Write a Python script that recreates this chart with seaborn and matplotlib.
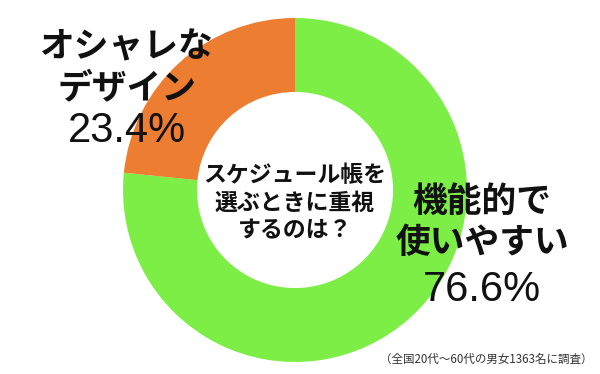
import matplotlib
matplotlib.use('Agg')
import matplotlib.pyplot as plt
import seaborn as sns

sns.set_theme(style='white')
plt.rcParams['font.family'] = ['Noto Sans CJK JP', 'DejaVu Sans']

# data
labels = ['機能的で\n使いやすい', 'オシャレな\nデザイン']
values = [76.6, 23.4]
slice_colors = ['#7DEE45', '#ED7D31']
center_title = 'スケジュール帳を\n選ぶときに重視\nするのは？'
footnote = '（全国20代～60代の男女1363名に調査）'

W, H = 600, 374
fig = plt.figure(figsize=(6, 3.74), dpi=100)
ax = fig.add_axes([0, 0, 1, 1])

cx, cy, R = 295, H - 190, 172
ax.pie(values, colors=slice_colors, startangle=90, counterclock=False,
       center=(cx, cy), radius=R,
       wedgeprops=dict(width=R * 0.43, linewidth=0))
ax.set_xlim(0, W)
ax.set_ylim(0, H)
ax.set_aspect('equal')
ax.axis('off')

# center title
ax.text(cx, H - 203, center_title, ha='center', va='center', fontsize=16.5,
        fontweight='bold', linespacing=1.25, color='#111111')

# slice labels (name + percentage)
label_pos = [(482, H - 222, H - 290), (127, H - 67, H - 131)]
for lab, val, (x, y_lab, y_pct) in zip(labels, values, label_pos):
    ax.text(x, y_lab, lab, ha='center', va='center', fontsize=25,
            fontweight='bold', linespacing=1.2, color='#111111')
    ax.text(x, y_pct, f'{val:.1f}%', ha='center', va='center', fontsize=30,
            family=['Liberation Sans', 'DejaVu Sans'], color='#111111')

ax.text(593, H - 359, footnote, ha='right', va='center', fontsize=8.3,
        color='#333333')

fig.savefig('out.png', dpi=100)
